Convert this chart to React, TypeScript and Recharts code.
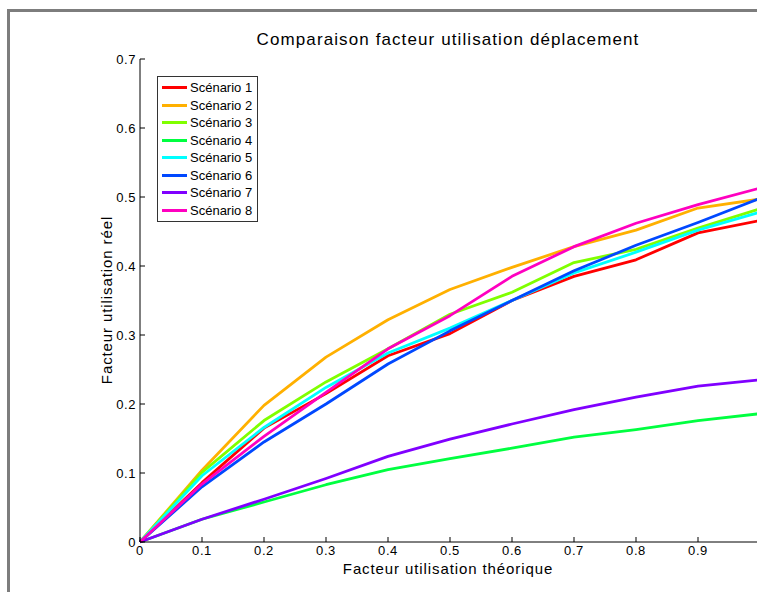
import { LineChart, Line, XAxis, YAxis, Legend } from 'recharts';

// facteur théorique (axe x)
const xValues = [0, 0.1, 0.2, 0.3, 0.4, 0.5, 0.6, 0.7, 0.8, 0.9, 1.0];

// facteur réel, un tableau par scénario
const scenario1 = [0, 0.086, 0.165, 0.215, 0.27, 0.302, 0.35, 0.385, 0.409, 0.448, 0.466];
const scenario2 = [0, 0.104, 0.198, 0.268, 0.322, 0.366, 0.398, 0.428, 0.452, 0.484, 0.497];
const scenario3 = [0, 0.101, 0.176, 0.232, 0.28, 0.33, 0.362, 0.405, 0.424, 0.455, 0.483];
const scenario4 = [0, 0.033, 0.058, 0.083, 0.105, 0.121, 0.136, 0.152, 0.163, 0.176, 0.186];
const scenario5 = [0, 0.096, 0.166, 0.224, 0.274, 0.31, 0.35, 0.39, 0.42, 0.452, 0.478];
const scenario6 = [0, 0.08, 0.145, 0.2, 0.258, 0.306, 0.35, 0.393, 0.43, 0.463, 0.498];
const scenario7 = [0, 0.033, 0.062, 0.092, 0.124, 0.149, 0.171, 0.192, 0.21, 0.226, 0.235];
const scenario8 = [0, 0.084, 0.153, 0.217, 0.28, 0.328, 0.385, 0.428, 0.462, 0.489, 0.513];

const seriesNames = ['Scénario 1', 'Scénario 2', 'Scénario 3', 'Scénario 4', 'Scénario 5', 'Scénario 6', 'Scénario 7', 'Scénario 8'];
const seriesColors = ['#ff0000', '#ffb000', '#80ff00', '#00ff40', '#00ffff', '#0048ff', '#8000ff', '#ff00c0'];

const xTicks = [0, 0.1, 0.2, 0.3, 0.4, 0.5, 0.6, 0.7, 0.8, 0.9, 1];
const yTicks = [0, 0.1, 0.2, 0.3, 0.4, 0.5, 0.6, 0.7];

const allSeries = [scenario1, scenario2, scenario3, scenario4, scenario5, scenario6, scenario7, scenario8];

const data = xValues.map((x, i) => {
  const row: any = { x };
  allSeries.forEach((s, k) => {
    row['s' + (k + 1)] = s[i];
  });
  return row;
});

const FONT = '"Liberation Sans", Arial, sans-serif';
const fmt = (v: number) => (v === 0 ? '0' : String(Math.round(v * 10) / 10));

const BottomTick = (props: any) => {
  const { x, y, payload } = props;
  return (
    <g>
      <line x1={x} y1={y} x2={x} y2={y - 5} stroke="#000" />
      {payload.value < 1 && (
        <text x={x} y={y + 13} textAnchor="middle" fontSize={13} letterSpacing={0.6} fill="#000" fontFamily={FONT}>
          {fmt(payload.value)}
        </text>
      )}
    </g>
  );
};

const TopTick = (props: any) => {
  const { x, y } = props;
  return <line x1={x} y1={y} x2={x} y2={y + 5} stroke="#000" />;
};

const LeftTick = (props: any) => {
  const { x, y, payload } = props;
  return (
    <g>
      <line x1={x} y1={y} x2={x + 5} y2={y} stroke="#000" />
      <text x={x - 4} y={y + 5} textAnchor="end" fontSize={13} letterSpacing={0.6} fill="#000" fontFamily={FONT}>
        {fmt(payload.value)}
      </text>
    </g>
  );
};

const LegendBox = (props: any) => {
  const items = props.payload || [];
  return (
    <div style={{ border: '1px solid #333', background: '#fff', padding: '2px 4px 2px 4px', fontFamily: FONT, fontSize: 13 }}>
      {items.map((entry: any) => (
        <div key={entry.value} style={{ display: 'flex', alignItems: 'center', height: 17.5, whiteSpace: 'nowrap' }}>
          <span style={{ display: 'inline-block', width: 25, borderTop: `3px solid ${entry.color}`, marginRight: 3 }} />
          <span style={{ color: '#000' }}>{entry.value}</span>
        </div>
      ))}
    </div>
  );
};

export default function App() {
  return (
    <div style={{ position: 'absolute', left: 0, top: 0, width: 757, height: 592, overflow: 'hidden', background: '#fff' }}>
      {/* cadre de la fenêtre */}
      <div style={{ position: 'absolute', left: 7, top: 9, width: 760, height: 600, borderTop: '3px solid #7d7d7d', borderLeft: '3px solid #7d7d7d' }} />
      <div style={{ position: 'absolute', left: 138, top: 30, width: 620, textAlign: 'center', fontFamily: FONT, fontSize: 17, letterSpacing: 1.1, color: '#000' }}>
        Comparaison facteur utilisation déplacement
      </div>
      <div style={{ position: 'absolute', left: 138, top: 560, width: 620, textAlign: 'center', fontFamily: FONT, fontSize: 15, letterSpacing: 0.9, color: '#000', lineHeight: '17px' }}>
        Facteur utilisation théorique
      </div>
      <div style={{ position: 'absolute', left: 107, top: 300, width: 0, height: 0 }}>
        <div style={{ position: 'absolute', left: -150, top: -10, width: 300, textAlign: 'center', transform: 'rotate(-90deg)', fontFamily: FONT, fontSize: 15, letterSpacing: 0.9, color: '#000', lineHeight: '20px' }}>
          Facteur utilisation réel
        </div>
      </div>
      <div style={{ position: 'absolute', left: 0, top: 0 }}>
        <LineChart width={800} height={592} data={data} margin={{ top: 59, right: 40, bottom: 0, left: 100 }}>
          <XAxis
            dataKey="x"
            type="number"
            domain={[0, 1]}
            ticks={xTicks}
            height={50}
            tickSize={0}
            tickMargin={0}
            tickLine={false}
            tick={<BottomTick />}
            axisLine={{ stroke: '#000' }}
            interval={0}
          />
          <XAxis
            xAxisId="top"
            orientation="top"
            dataKey="x"
            type="number"
            domain={[0, 1]}
            ticks={xTicks}
            height={0}
            tickSize={0}
            tickMargin={0}
            tickLine={false}
            tick={<TopTick />}
            axisLine={{ stroke: '#000' }}
            interval={0}
          />
          <YAxis
            type="number"
            domain={[0, 0.7]}
            ticks={yTicks}
            width={40}
            tickSize={0}
            tickMargin={0}
            tickLine={false}
            tick={<LeftTick />}
            axisLine={{ stroke: '#000' }}
            interval={0}
          />
          <Legend
            layout="vertical"
            align="center"
            verticalAlign="middle"
            content={<LegendBox />}
            wrapperStyle={{ position: 'absolute', left: 157, top: 76, width: 101 }}
          />
          {seriesNames.map((name, k) => (
            <Line
              key={name}
              dataKey={'s' + (k + 1)}
              name={name}
              stroke={seriesColors[k]}
              strokeWidth={2.8}
              dot={false}
              activeDot={false}
              isAnimationActive={false}
              strokeLinejoin="round"
            />
          ))}
        </LineChart>
      </div>
    </div>
  );
}
